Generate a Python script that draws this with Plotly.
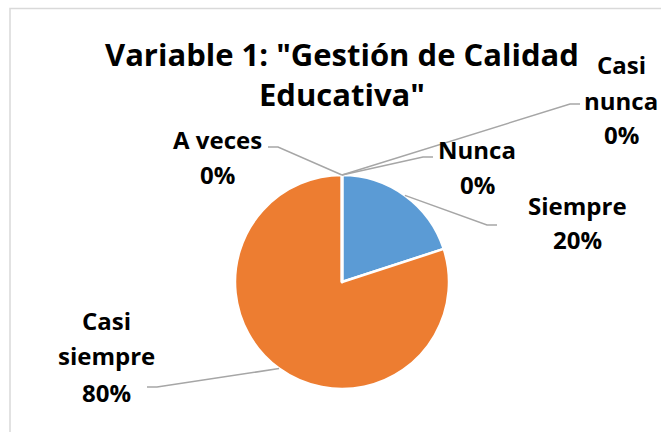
import numpy as np
import plotly.graph_objects as go

# Datos
categorias = ["Siempre", "Casi siempre", "A veces", "Casi nunca", "Nunca"]
valores = [20, 80, 0, 0, 0]
colores = ["#5B9BD5", "#ED7D31", "#A5A5A5", "#FFC000", "#4472C4"]
titulo = 'Variable 1: "Gestión de Calidad<br>Educativa"'

# Geometría (pixeles)
W, H = 661, 432
cx, cy, rad = 342, 282, 107

# Posición de cada etiqueta: centro x, renglones del nombre, línea base de cada renglón,
# codo del conector y extremo horizontal
etiquetas = {
    "Siempre":      dict(x=577, lines=["Siempre"], y=[213, 247], codo=(487, 225), fin=497),
    "Casi siempre": dict(x=106, lines=["Casi", "siempre"], y=[328, 363, 400], codo=(157, 387), fin=147),
    "A veces":      dict(x=217, lines=["A veces"], y=[147, 182], codo=(278, 147), fin=268),
    "Casi nunca":   dict(x=621, lines=["Casi", "nunca"], y=[72, 108, 142], codo=(570, 104), fin=580),
    "Nunca":        dict(x=477, lines=["Nunca"], y=[157, 192], codo=(423, 157), fin=433),
}

fuente = "Open Sans"
total = sum(valores)

fig = go.Figure()

fig.add_trace(go.Pie(
    labels=categorias,
    values=valores,
    sort=False,
    direction="clockwise",
    rotation=0,
    marker=dict(colors=colores, line=dict(color="white", width=2.5)),
    textinfo="none",
    hoverinfo="label+percent",
    showlegend=False,
    domain=dict(x=[(cx - rad) / W, (cx + rad) / W],
                y=[1 - (cy + rad) / H, 1 - (cy - rad) / H]),
))

# eje auxiliar en pixeles para conectores y textos
fig.add_trace(go.Scatter(x=[0, W], y=[0, H], mode="markers",
                         marker=dict(opacity=0), hoverinfo="skip", showlegend=False))

shapes = []
annotations = []
acum = 0.0
for cat, v in zip(categorias, valores):
    frac_mid = (acum + v / 2) / total
    acum += v
    ang = 2 * np.pi * frac_mid
    ax_ = cx + rad * np.sin(ang)
    ay_ = cy - rad * np.cos(ang)
    e = etiquetas[cat]
    bx, by = e["codo"]
    shapes.append(dict(type="path", xref="x", yref="y",
                       path=f"M {ax_:.1f} {ay_:.1f} L {bx} {by} L {e['fin']} {by}",
                       line=dict(color="#A6A6A6", width=1.5)))
    pct = f"{round(100 * v / total)}%"
    for txt, yb in zip(e["lines"] + [pct], e["y"]):
        annotations.append(dict(x=e["x"], y=yb - 8, xref="x", yref="y", text=txt,
                                showarrow=False, xanchor="center", yanchor="middle",
                                font=dict(family=fuente, size=24, color="black", weight="bold")))

# título
annotations.append(dict(x=342, y=74, xref="x", yref="y", text=titulo, showarrow=False,
                        xanchor="center", yanchor="middle",
                        font=dict(family=fuente, size=31, color="black", weight="bold")))

# borde del área del gráfico
shapes.append(dict(type="rect", xref="x", yref="y", x0=10, y0=8.5, x1=W + 20, y1=H + 20,
                   line=dict(color="#D9D9D9", width=1.5), layer="below"))

fig.update_layout(
    width=W, height=H,
    margin=dict(l=0, r=0, t=0, b=0),
    paper_bgcolor="white", plot_bgcolor="rgba(0,0,0,0)",
    xaxis=dict(visible=False, range=[0, W], fixedrange=True),
    yaxis=dict(visible=False, range=[H, 0], fixedrange=True),
    shapes=shapes,
    annotations=annotations,
)

# sin margen del body para que la figura ocupe exactamente la ventana
fig.write_html("out.html", config={"displayModeBar": False},
               post_script="document.body.style.margin='0';document.body.style.overflow='hidden';")
